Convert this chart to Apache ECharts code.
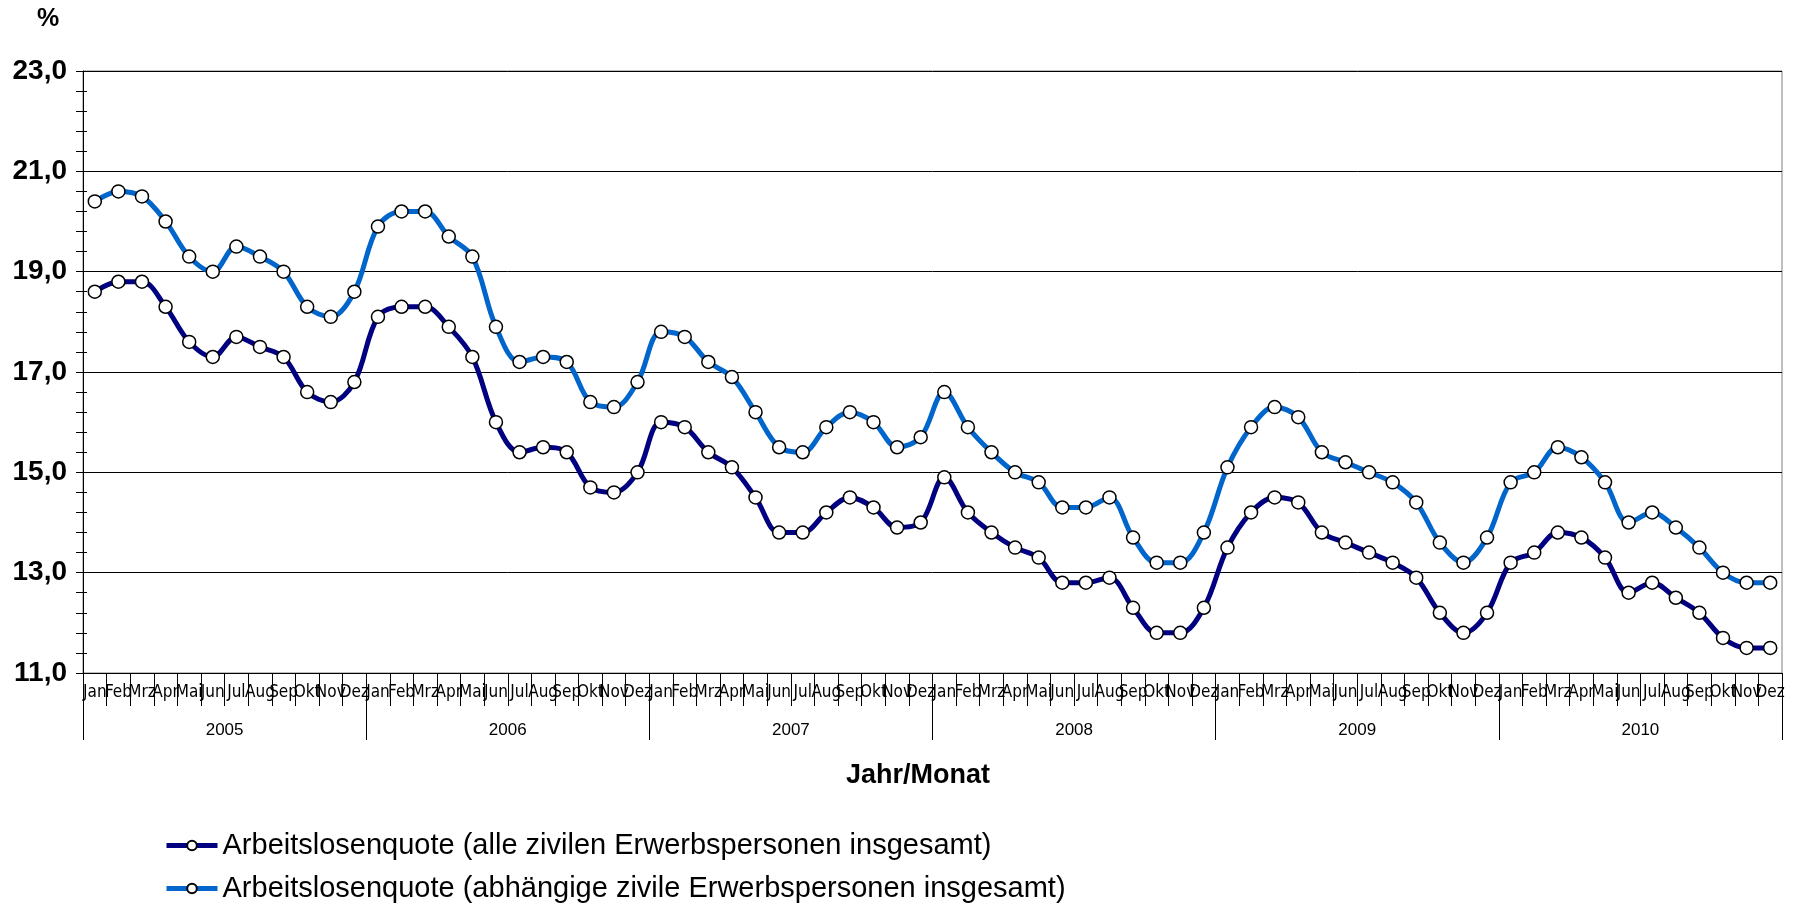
<!DOCTYPE html>
<html>
<head>
<meta charset="utf-8">
<title>Arbeitslosenquote 2005-2010</title>
<script src="https://cdn.jsdelivr.net/npm/echarts@6/dist/echarts.min.js"></script>
<style>
    html, body {
        margin: 0;
        padding: 0;
        background: #fff;
    }

    #ChartLine {
        width: 1795px;
        height: 907px;
    }
</style>
</head>
<body>
<div id="ChartLine"></div>
<script>
// Kategorien
const monthNames = ['Jan', 'Feb', 'Mrz', 'Apr', 'Mai', 'Jun', 'Jul', 'Aug', 'Sep', 'Okt', 'Nov', 'Dez']
const years = ['2005', '2006', '2007', '2008', '2009', '2010']

// Arbeitslosenquote (alle zivilen Erwerbspersonen insgesamt)
const quoteAlle = [
    18.6, 18.8, 18.8, 18.3, 17.6, 17.3, 17.7, 17.5, 17.3, 16.6, 16.4, 16.8,
    18.1, 18.3, 18.3, 17.9, 17.3, 16.0, 15.4, 15.5, 15.4, 14.7, 14.6, 15.0,
    16.0, 15.9, 15.4, 15.1, 14.5, 13.8, 13.8, 14.2, 14.5, 14.3, 13.9, 14.0,
    14.9, 14.2, 13.8, 13.5, 13.3, 12.8, 12.8, 12.9, 12.3, 11.8, 11.8, 12.3,
    13.5, 14.2, 14.5, 14.4, 13.8, 13.6, 13.4, 13.2, 12.9, 12.2, 11.8, 12.2,
    13.2, 13.4, 13.8, 13.7, 13.3, 12.6, 12.8, 12.5, 12.2, 11.7, 11.5, 11.5
]

// Arbeitslosenquote (abhängige zivile Erwerbspersonen insgesamt)
const quoteAbhaengige = [
    20.4, 20.6, 20.5, 20.0, 19.3, 19.0, 19.5, 19.3, 19.0, 18.3, 18.1, 18.6,
    19.9, 20.2, 20.2, 19.7, 19.3, 17.9, 17.2, 17.3, 17.2, 16.4, 16.3, 16.8,
    17.8, 17.7, 17.2, 16.9, 16.2, 15.5, 15.4, 15.9, 16.2, 16.0, 15.5, 15.7,
    16.6, 15.9, 15.4, 15.0, 14.8, 14.3, 14.3, 14.5, 13.7, 13.2, 13.2, 13.8,
    15.1, 15.9, 16.3, 16.1, 15.4, 15.2, 15.0, 14.8, 14.4, 13.6, 13.2, 13.7,
    14.8, 15.0, 15.5, 15.3, 14.8, 14.0, 14.2, 13.9, 13.5, 13.0, 12.8, 12.8
]

const legendAlle = 'Arbeitslosenquote (alle zivilen Erwerbspersonen insgesamt)'
const legendAbh = 'Arbeitslosenquote (abhängige zivile Erwerbspersonen insgesamt)'

const yMin = 11
const yMax = 23
const yStep = 2

// Achse: jeder Monat eine Kategorie
let axisX = []
years.forEach(y => {
    monthNames.forEach(m => axisX.push(m + ' ' + y))
})

const fontMain = "Arial, 'Liberation Sans', sans-serif"
const fontNarrow = "'Liberation Sans Narrow', 'DejaVu Sans Condensed', 'Liberation Sans', Arial, sans-serif"

// eine Legende pro Zeile, sonst bricht ECharts in Spalten um
function legendRow(name, top) {
    return {
        orient: 'vertical',
        left: 159,
        top: top,
        itemWidth: 51,
        itemHeight: 12,
        selectedMode: false,
        lineStyle: { width: 5 },
        textStyle: {
            fontSize: 29,
            fontFamily: fontMain,
            color: '#000'
        },
        data: [name]
    }
}

let dom = echarts.init(document.getElementById('ChartLine'))

let option = {
    animation: false,
    backgroundColor: '#fff',
    grid: {
        left: 83,
        right: 13,
        top: 71,
        bottom: 234,
        show: true,
        borderColor: '#808080',
        borderWidth: 1,
        backgroundColor: 'transparent'
    },
    graphic: [
        {
            type: 'text',
            x: 48,
            y: 19,
            style: {
                text: '%',
                fill: '#000',
                font: 'bold 25px ' + fontMain,
                textAlign: 'center',
                textVerticalAlign: 'middle'
            }
        },
        {
            type: 'text',
            x: 918,
            y: 776,
            style: {
                text: 'Jahr/Monat',
                fill: '#000',
                font: 'bold 27px ' + fontMain,
                textAlign: 'center',
                textVerticalAlign: 'middle'
            }
        }
    ],
    legend: [
        legendRow(legendAlle, 826),
        legendRow(legendAbh, 869)
    ],
    xAxis: [{
        type: 'category',
        position: 'bottom',
        data: axisX,
        axisLine: {
            show: true,
            lineStyle: { color: '#000', width: 1 }
        },
        axisTick: {
            show: true,
            length: 33,
            interval: 0,
            lineStyle: { color: '#000', width: 1 }
        },
        axisLabel: {
            interval: 0,
            margin: 11,
            fontSize: 17,
            fontFamily: fontNarrow,
            color: '#000',
            formatter: v => v.split(' ')[0]
        },
        splitLine: { show: false }
    }, {
        type: 'category',
        position: 'bottom',
        data: years,
        axisLine: { show: false },
        axisTick: {
            show: true,
            length: 67,
            interval: 0,
            lineStyle: { color: '#000', width: 1 }
        },
        axisLabel: {
            interval: 0,
            margin: 49,
            fontSize: 17,
            fontFamily: fontMain,
            color: '#000'
        },
        splitLine: { show: false }
    }],
    yAxis: [{
        type: 'value',
        min: yMin,
        max: yMax,
        interval: yStep,
        axisLine: {
            show: true,
            lineStyle: { color: '#000', width: 1 }
        },
        axisTick: {
            show: true,
            length: 7,
            lineStyle: { color: '#000', width: 1 }
        },
        minorTick: {
            show: true,
            splitNumber: 5,
            length: 7,
            lineStyle: { color: '#000', width: 1 }
        },
        axisLabel: {
            margin: 16,
            fontSize: 28,
            fontWeight: 'bold',
            fontFamily: fontMain,
            color: '#000',
            formatter: v => v.toFixed(1).replace('.', ',')
        },
        splitLine: {
            lineStyle: { color: '#000', width: 1 }
        }
    }, {
        // kleine Striche nach innen
        type: 'value',
        position: 'left',
        min: yMin,
        max: yMax,
        interval: yStep,
        axisLine: { show: false },
        axisTick: {
            show: true,
            inside: true,
            length: 4,
            lineStyle: { color: '#000', width: 1 }
        },
        minorTick: {
            show: true,
            splitNumber: 5,
            length: 4,
            lineStyle: { color: '#000', width: 1 }
        },
        axisLabel: { show: false },
        splitLine: { show: false }
    }],
    series: [
        {
            name: legendAlle,
            type: 'line',
            data: quoteAlle,
            smooth: 0.35,
            symbol: 'circle',
            symbolSize: 13,
            z: 3,
            lineStyle: { color: '#000080', width: 5 },
            itemStyle: { color: '#fff', borderColor: '#000', borderWidth: 1.5 }
        },
        {
            name: legendAbh,
            type: 'line',
            data: quoteAbhaengige,
            smooth: 0.35,
            symbol: 'circle',
            symbolSize: 13,
            z: 3,
            lineStyle: { color: '#0066cc', width: 5 },
            itemStyle: { color: '#fff', borderColor: '#000', borderWidth: 1.5 }
        }
    ]
}

dom.setOption(option)
</script>
</body>
</html>
